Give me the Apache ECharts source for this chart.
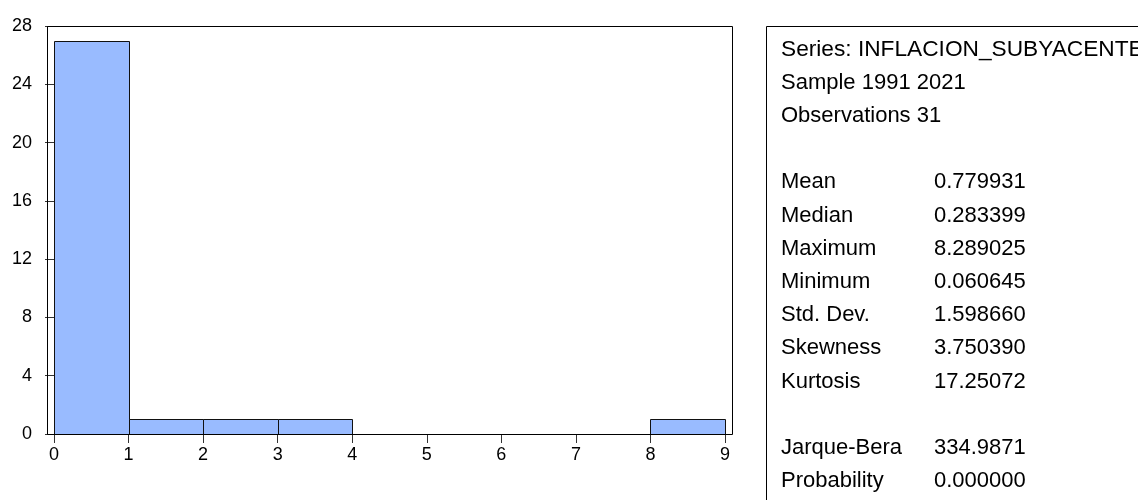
<!DOCTYPE html>
<html>
<head>
<meta charset="utf-8">
<script src="https://cdn.jsdelivr.net/npm/echarts@6/dist/echarts.min.js"></script>
<style>
  html, body { margin: 0; padding: 0; background: #fff; }
  #chart { width: 1138px; height: 500px; }
</style>
</head>
<body>
<div id="chart"></div>
<script>
// Histogram bins (lower edge, upper edge) and their counts
var binLower = [0, 1, 2, 3, 4, 5, 6, 7, 8];
var binUpper = [1, 2, 3, 4, 5, 6, 7, 8, 9];
var binCounts = [27, 1, 1, 1, 0, 0, 0, 0, 1];

// Axis ticks
var xTicks = [0, 1, 2, 3, 4, 5, 6, 7, 8, 9];
var yTicks = [0, 4, 8, 12, 16, 20, 24, 28];

// Descriptive statistics panel
var headerLines = ['Series: INFLACION_SUBYACENTE', 'Sample 1991 2021', 'Observations 31'];
var statLabels = ['Mean', 'Median', 'Maximum', 'Minimum', 'Std. Dev.', 'Skewness', 'Kurtosis', '', 'Jarque-Bera', 'Probability'];
var statValues = ['0.779931', '0.283399', '8.289025', '0.060645', '1.598660', '3.750390', '17.25072', '', '334.9871', '0.000000'];

var FONT = "'Liberation Sans', Arial, sans-serif";
var bins = binLower.map(function (lo, i) { return [lo, binUpper[i], binCounts[i]]; });

var chart = echarts.init(document.getElementById('chart'), null, { renderer: 'canvas' });

// Text of the statistics panel
var panelX = 781, valueX = 934, firstRowY = 49.5, rowStep = 33.2;
var panelTexts = [];
headerLines.forEach(function (t, i) {
  panelTexts.push({
    type: 'text', left: panelX, top: firstRowY + i * rowStep - 11,
    style: { text: t, font: (i === 0 ? '22.7px ' : '22px ') + FONT, fill: '#000' }
  });
});
statLabels.forEach(function (t, i) {
  if (!t) return;
  var y = firstRowY + (i + 4) * rowStep - 11;
  panelTexts.push({ type: 'text', left: panelX, top: y, style: { text: t, font: '22px ' + FONT, fill: '#000' } });
  panelTexts.push({ type: 'text', left: valueX, top: y, style: { text: statValues[i], font: '22px ' + FONT, fill: '#000' } });
});

var option = {
  animation: false,
  backgroundColor: '#fff',
  grid: { left: 54, right: 413, top: 26, bottom: 66, containLabel: false },
  xAxis: {
    type: 'value', min: xTicks[0], max: xTicks[xTicks.length - 1], interval: 1,
    axisLine: { show: false },
    axisTick: { show: true, length: 9, lineStyle: { color: '#333' } },
    axisLabel: { margin: 12, fontSize: 18, fontFamily: FONT, color: '#000' },
    splitLine: { show: false }
  },
  yAxis: {
    type: 'value', min: yTicks[0], max: yTicks[yTicks.length - 1], interval: 4,
    offset: 7,
    axisLine: { show: false },
    axisTick: { show: true, length: 9, lineStyle: { color: '#333' } },
    axisLabel: { margin: 15, fontSize: 18, fontFamily: FONT, color: '#000', padding: [0, 0, 7, 0] },
    splitLine: { show: false }
  },
  series: [{
    type: 'custom',
    data: bins,
    encode: { x: [0, 1], y: 2 },
    renderItem: function (params, api) {
      var lo = api.value(0), hi = api.value(1), n = api.value(2);
      if (!n) return null;
      var p0 = api.coord([lo, n]);
      var p1 = api.coord([hi, 0]);
      return {
        type: 'rect',
        shape: { x: Math.round(p0[0]) + 0.5, y: Math.round(p0[1]) + 0.5,
                 width: Math.round(p1[0]) - Math.round(p0[0]), height: Math.round(p1[1]) - Math.round(p0[1]) },
        style: { fill: '#99BBFF', stroke: '#111', lineWidth: 1 }
      };
    }
  }],
  graphic: [
    // plot frame
    { type: 'rect', z: 10, shape: { x: 47.5, y: 26.5, width: 685, height: 408 },
      style: { fill: 'none', stroke: '#000', lineWidth: 1 } },
    // statistics panel frame
    { type: 'rect', z: 10, shape: { x: 766.5, y: 26.5, width: 500, height: 600 },
      style: { fill: 'none', stroke: '#000', lineWidth: 1 } }
  ].concat(panelTexts)
};

chart.setOption(option);
</script>
</body>
</html>
